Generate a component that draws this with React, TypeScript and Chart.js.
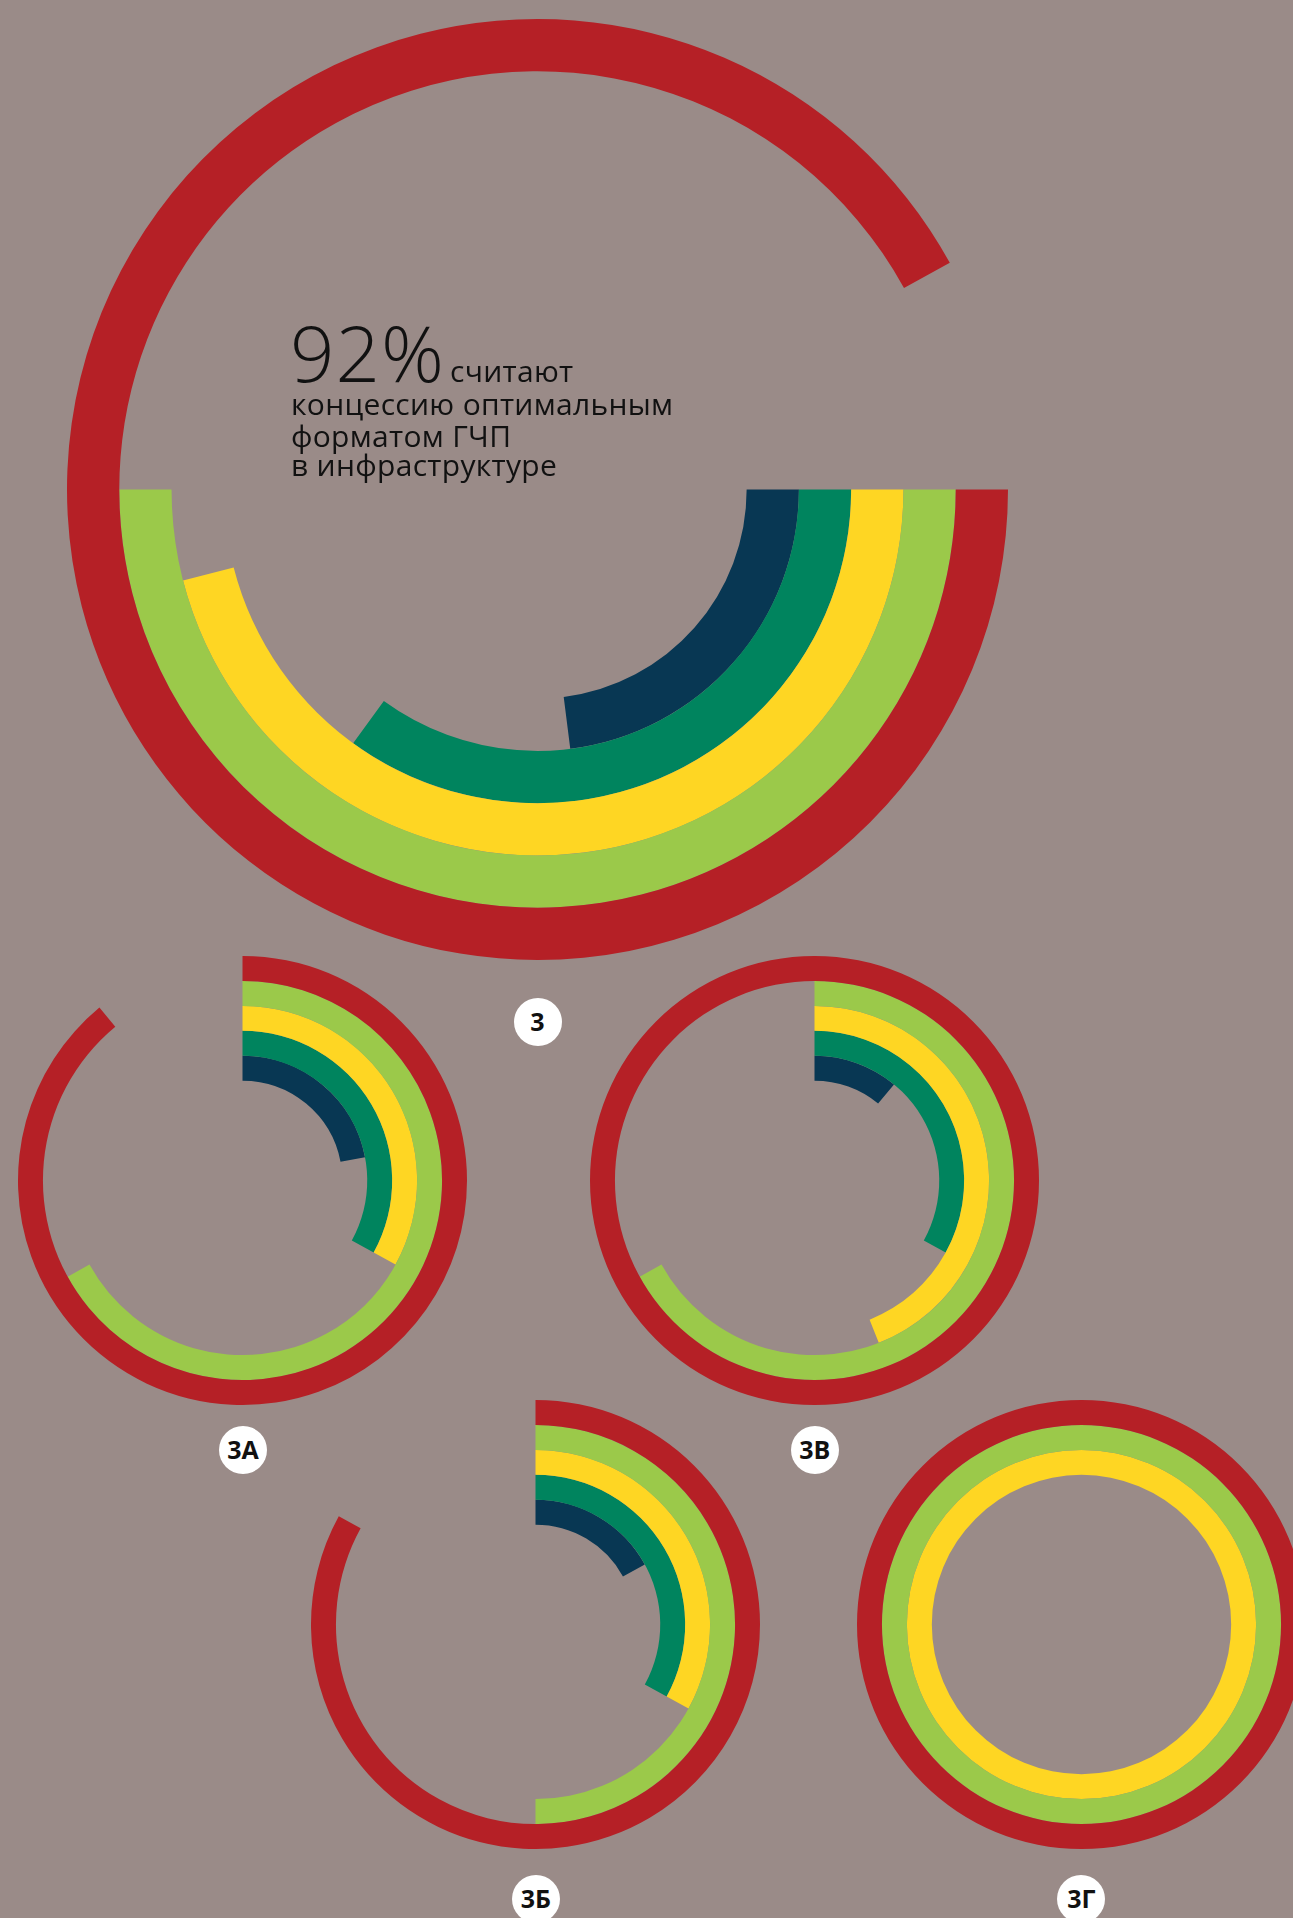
import React, { useEffect, useRef } from "react";
import { Chart, registerables } from "chart.js";

Chart.register(...registerables);

// ---- data ----
const ringNames = ["Кольцо 1", "Кольцо 2", "Кольцо 3", "Кольцо 4", "Кольцо 5"];
const ringColors = ["#B52026", "#9BC94A", "#FED623", "#00845E", "#083753"];
const mainValues = [92, 50, 46, 35, 23];
const valuesA = [89, 67, 33, 33, 22];
const valuesB = [83, 50, 33, 33, 17];
const valuesV = [100, 67, 44, 33, 11];
const valuesG = [100, 100, 100, 0, 0];
const chartLabels = ["3", "3А", "3Б", "3В", "3Г"];

const BG = "#9A8B88";
const FONT = '"Open Sans", "DejaVu Sans", sans-serif';

type RingProps = {
  values: number[];
  cx: number;
  cy: number;
  radius: number;
  rotation: number;
};

function RingChart({ values, cx, cy, radius, rotation }: RingProps) {
  const ref = useRef<HTMLCanvasElement | null>(null);
  const size = Math.ceil(radius * 2 + 6);
  useEffect(() => {
    if (!ref.current) return;
    const chart = new Chart(ref.current, {
      type: "doughnut",
      data: {
        labels: ["value", "rest"],
        datasets: values.map((v, i) => ({
          label: ringNames[i],
          data: [v, 100 - v],
          backgroundColor: [ringColors[i], "rgba(0,0,0,0)"],
          borderWidth: 0,
          hoverOffset: 0,
          offset: 0,
        })),
      },
      options: {
        responsive: false,
        animation: false,
        events: [],
        radius: radius,
        cutout: "44.45%",
        rotation: rotation,
        circumference: 360,
        layout: { padding: 0 },
        plugins: {
          legend: { display: false },
          tooltip: { enabled: false },
        },
      } as any,
    });
    return () => chart.destroy();
  }, [values, radius, rotation]);
  return (
    <canvas
      ref={ref}
      width={size}
      height={size}
      style={{
        position: "absolute",
        left: cx - size / 2,
        top: cy - size / 2,
        width: size,
        height: size,
        display: "block",
      }}
    />
  );
}

function Badge({ text, cx, cy }: { text: string; cx: number; cy: number }) {
  const r = 24;
  return (
    <div
      style={{
        position: "absolute",
        left: cx - r,
        top: cy - r,
        width: r * 2,
        height: r * 2,
        borderRadius: "50%",
        background: "#FFFFFF",
        display: "flex",
        alignItems: "center",
        justifyContent: "center",
        fontFamily: FONT,
        fontWeight: 700,
        fontSize: 25,
        color: "#111",
        lineHeight: 1,
      }}
    >
      {text}
    </div>
  );
}

const textLine = (top: number, left: number, size: number, weight: number, txt: string, ls = 0) => (
  <div
    style={{
      position: "absolute",
      top,
      left,
      fontFamily: FONT,
      fontSize: size,
      fontWeight: weight,
      lineHeight: `${size}px`,
      letterSpacing: ls,
      color: "#111",
      whiteSpace: "nowrap",
    }}
  >
    {txt}
  </div>
);

export default function App() {
  const smallR = 224.5;
  return (
    <div
      style={{
        position: "fixed",
        left: 0,
        top: 0,
        width: 1293,
        height: 1918,
        overflow: "hidden",
        background: BG,
      }}
    >
      <RingChart values={mainValues} cx={537.8} cy={489} radius={470.5} rotation={90} />
      <RingChart values={valuesA} cx={242.7} cy={1180.5} radius={smallR} rotation={0} />
      <RingChart values={valuesV} cx={814.7} cy={1180.5} radius={smallR} rotation={0} />
      <RingChart values={valuesB} cx={535.8} cy={1624.5} radius={smallR} rotation={0} />
      <RingChart values={valuesG} cx={1081.4} cy={1624.5} radius={smallR} rotation={0} />

      {textLine(313, 290, 78, 300, "92%", 1)}
      {textLine(356, 450, 30, 400, "считают", 0.3)}
      {textLine(389, 291, 30, 400, "концессию оптимальным", 0.3)}
      {textLine(420.5, 291, 30, 400, "форматом ГЧП", 0.3)}
      {textLine(450, 291, 30, 400, "в инфраструктуре", 0.3)}

      <Badge text={chartLabels[0]} cx={537.5} cy={1021.7} />
      <Badge text={chartLabels[1]} cx={243} cy={1449.5} />
      <Badge text={chartLabels[2]} cx={535.8} cy={1898.5} />
      <Badge text={chartLabels[3]} cx={814.7} cy={1449.5} />
      <Badge text={chartLabels[4]} cx={1081.4} cy={1898.5} />
    </div>
  );
}
